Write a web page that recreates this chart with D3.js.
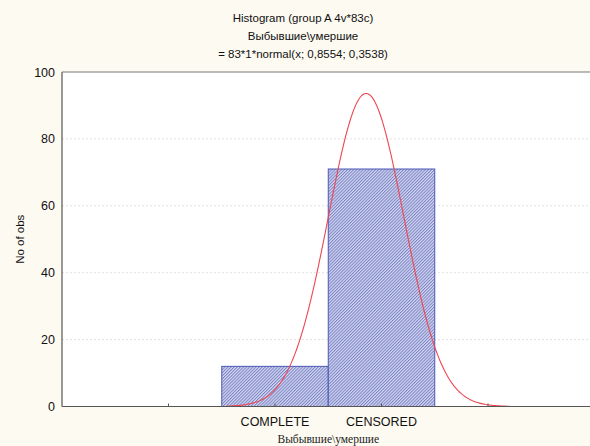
<!DOCTYPE html>
<html>
<head>
<meta charset="utf-8">
<script src="https://cdn.jsdelivr.net/npm/d3@7"></script>
<style>
  body { margin: 0; background: #fdfaf1; }
  svg { display: block; }
</style>
</head>
<body>
<script>
// data
var categories = ["COMPLETE", "CENSORED"];
var catCodes = [0, 1];
var counts = [12, 71];
var yTicks = [0, 20, 40, 60, 80, 100];
var xTicks = [-1, 0, 1, 2];
var fitN = 83, fitMean = 0.8554, fitSd = 0.3538;
var curveRange = [-0.45, 2.2];

var w = 590, h = 446;
var plotLeft = 62, plotRight = 594.5, plotTop = 72, plotBottom = 406.5;

var x = d3.scaleLinear().domain([-2, 3]).range([plotLeft, plotRight]);
var y = d3.scaleLinear().domain([0, 100]).range([plotBottom, plotTop]);

var svg = d3.select("body").append("svg").attr("width", w).attr("height", h);

// fine hatch pattern for bars
var defs = svg.append("defs");
var pat = defs.append("pattern")
  .attr("id", "hatch")
  .attr("patternUnits", "userSpaceOnUse")
  .attr("width", 2.2).attr("height", 2.2)
  .attr("patternTransform", "rotate(45)");
pat.append("rect").attr("width", 2.2).attr("height", 2.2).attr("fill", "#d4d7ef");
pat.append("rect").attr("width", 1).attr("height", 2.2).attr("fill", "#7b84c6");

// plot area
svg.append("rect")
  .attr("x", plotLeft).attr("y", plotTop)
  .attr("width", plotRight - plotLeft).attr("height", plotBottom - plotTop)
  .attr("fill", "#ffffff");

// grid
svg.selectAll(".grid")
  .data(yTicks.filter(function (d) { return d > 0 && d < 100; }))
  .enter()
  .append("line")
  .attr("x1", plotLeft).attr("x2", plotRight)
  .attr("y1", function (d) { return y(d); })
  .attr("y2", function (d) { return y(d); })
  .attr("stroke", "#e0e0e0")
  .attr("stroke-dasharray", "2,2")
  .attr("stroke-width", 1);

// bars
svg.selectAll(".bar")
  .data(counts)
  .enter()
  .append("rect")
  .attr("x", function (d, i) { return x(catCodes[i] - 0.5); })
  .attr("y", function (d) { return y(d); })
  .attr("width", function (d, i) { return x(catCodes[i] + 0.5) - x(catCodes[i] - 0.5); })
  .attr("height", function (d) { return plotBottom - y(d); })
  .attr("fill", "url(#hatch)")
  .attr("stroke", "#4b57b4")
  .attr("stroke-width", 1);

// fitted normal curve
var pts = d3.range(curveRange[0], curveRange[1] + 0.0001, 0.01).map(function (v) {
  var z = (v - fitMean) / fitSd;
  return [v, fitN * 1 * Math.exp(-0.5 * z * z) / (fitSd * Math.sqrt(2 * Math.PI))];
});
svg.append("path")
  .datum(pts)
  .attr("d", d3.line()
    .x(function (d) { return x(d[0]); })
    .y(function (d) { return y(d[1]); }))
  .attr("fill", "none")
  .attr("stroke", "#ee4652")
  .attr("stroke-width", 1.1);

// axes lines
svg.append("line").attr("x1", plotLeft).attr("x2", plotLeft).attr("y1", plotTop).attr("y2", plotBottom)
  .attr("stroke", "#555").attr("stroke-width", 1.2);
svg.append("line").attr("x1", plotLeft).attr("x2", w).attr("y1", plotBottom).attr("y2", plotBottom)
  .attr("stroke", "#555").attr("stroke-width", 1.2);
svg.append("line").attr("x1", plotLeft).attr("x2", w).attr("y1", plotTop).attr("y2", plotTop)
  .attr("stroke", "#777").attr("stroke-width", 1.2);

// x ticks (inside)
svg.selectAll(".xtick")
  .data(xTicks)
  .enter()
  .append("line")
  .attr("x1", function (d) { return x(d); })
  .attr("x2", function (d) { return x(d); })
  .attr("y1", plotBottom).attr("y2", plotBottom - 3)
  .attr("stroke", "#555");

// y tick labels
svg.selectAll(".ylab")
  .data(yTicks)
  .enter()
  .append("text")
  .text(function (d) { return d; })
  .attr("x", plotLeft - 7)
  .attr("y", function (d) { return y(d) + 4.5; })
  .attr("text-anchor", "end")
  .attr("font-family", "Liberation Sans, Arial, sans-serif")
  .attr("font-size", "12.5px")
  .attr("fill", "#111");

// x category labels
svg.selectAll(".xlab")
  .data(categories)
  .enter()
  .append("text")
  .text(function (d) { return d; })
  .attr("x", function (d, i) { return x(catCodes[i]); })
  .attr("y", 426)
  .attr("text-anchor", "middle")
  .attr("font-family", "Liberation Sans, Arial, sans-serif")
  .attr("font-size", "12.5px")
  .attr("fill", "#111");

// axis titles
svg.append("text")
  .text("No of obs")
  .attr("transform", "translate(24," + ((plotTop + plotBottom) / 2) + ") rotate(-90)")
  .attr("text-anchor", "middle")
  .attr("font-family", "Liberation Sans, Arial, sans-serif")
  .attr("font-size", "11.5px")
  .attr("fill", "#111");

svg.append("text")
  .text("Выбывшие\\умершие")
  .attr("x", (plotLeft + plotRight) / 2)
  .attr("y", 443)
  .attr("text-anchor", "middle")
  .attr("font-family", "Liberation Serif, Times New Roman, serif")
  .attr("font-size", "11.5px")
  .attr("fill", "#222");

// title
var titleLines = ["Histogram (group A 4v*83c)", "Выбывшие\\умершие", "= 83*1*normal(x; 0,8554; 0,3538)"];
svg.selectAll(".title")
  .data(titleLines)
  .enter()
  .append("text")
  .text(function (d) { return d; })
  .attr("x", 303)
  .attr("y", function (d, i) { return 22 + i * 18; })
  .attr("text-anchor", "middle")
  .attr("font-family", "Liberation Sans, Arial, sans-serif")
  .attr("font-size", "11.5px")
  .attr("fill", "#111");
</script>
</body>
</html>
